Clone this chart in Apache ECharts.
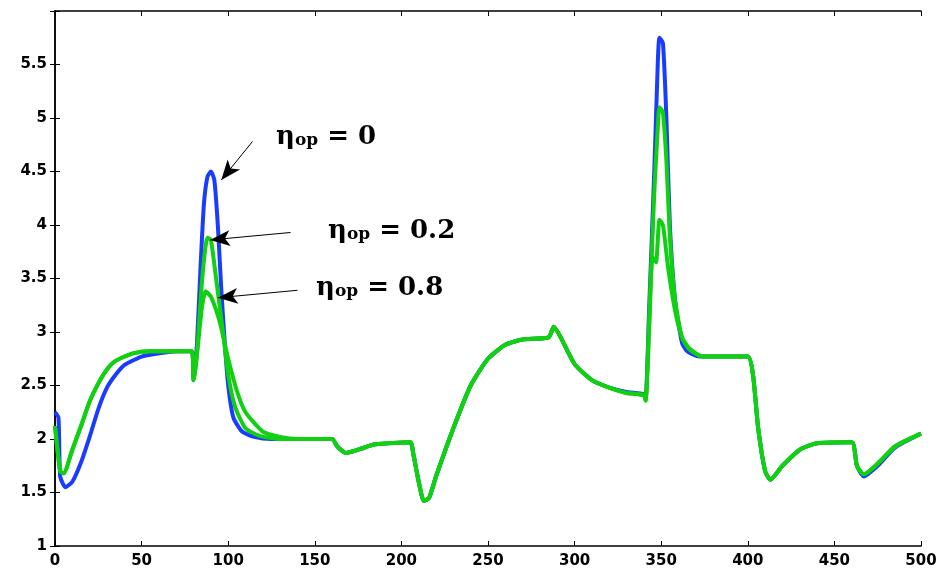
<!DOCTYPE html>
<html>
<head>
<meta charset="utf-8">
<script src="https://cdn.jsdelivr.net/npm/echarts@6/dist/echarts.min.js"></script>
<style>html,body{margin:0;padding:0;background:#fff}#chart{width:948px;height:574px}</style>
</head>
<body>
<div id="chart"></div>
<script>
// eta_op = 0 (blue)
let eta0 = [[0,2.25],[2,2.2],[3,1.65],[6,1.55],[10,1.6],[15,1.78],[20,2.02],[25,2.28],[30,2.48],[35,2.6],[40,2.69],[50,2.77],[60,2.8],[70,2.82],[79,2.82],[80,2.55],[82,2.9],[84,3.6],[86,4.2],[88,4.45],[90,4.5],[92,4.42],[94,4.0],[96,3.4],[98,2.9],[100,2.5],[103,2.2],[108,2.07],[115,2.02],[125,2.0],[160,2.0],[163,1.93],[168,1.87],[175,1.9],[185,1.95],[205,1.97],[207,1.85],[210,1.6],[213,1.42],[216,1.45],[220,1.65],[230,2.1],[240,2.5],[250,2.75],[260,2.88],[270,2.93],[285,2.95],[288,3.05],[292,2.95],[300,2.7],[310,2.55],[320,2.48],[330,2.44],[340,2.42],[341,2.38],[343,3.2],[346,4.5],[348,5.5],[349,5.75],[351,5.7],[353,5.0],[355,4.0],[358,3.3],[362,2.9],[365,2.82],[372,2.77],[400,2.77],[403,2.6],[406,2.1],[410,1.7],[413,1.62],[420,1.75],[430,1.9],[440,1.96],[460,1.97],[463,1.75],[467,1.65],[475,1.75],[485,1.92],[500,2.05]];
// eta_op = 0.2 (green)
let eta02 = [[0,2.12],[3,1.7],[5,1.68],[10,1.9],[15,2.12],[20,2.35],[25,2.52],[30,2.65],[35,2.73],[45,2.8],[55,2.82],[79,2.82],[80,2.55],[82,2.8],[85,3.5],[88,3.88],[90,3.86],[93,3.5],[97,3.0],[100,2.6],[104,2.3],[110,2.1],[118,2.03],[130,2.0],[160,2.0],[163,1.93],[168,1.87],[175,1.9],[185,1.95],[205,1.97],[207,1.85],[210,1.6],[213,1.42],[216,1.45],[220,1.65],[230,2.1],[240,2.5],[250,2.75],[260,2.88],[270,2.93],[285,2.95],[288,3.05],[292,2.95],[300,2.7],[310,2.55],[320,2.48],[330,2.43],[340,2.41],[341,2.36],[343,3.1],[346,4.3],[348,4.9],[349,5.1],[351,5.05],[353,4.6],[355,3.9],[358,3.3],[362,2.95],[366,2.84],[374,2.77],[400,2.77],[403,2.6],[406,2.1],[410,1.7],[413,1.62],[420,1.75],[430,1.9],[440,1.96],[460,1.97],[463,1.75],[467,1.67],[475,1.77],[485,1.93],[500,2.05]];
// eta_op = 0.8 (green)
let eta08 = [[0,2.12],[3,1.7],[5,1.68],[10,1.9],[15,2.12],[20,2.35],[25,2.52],[30,2.65],[35,2.73],[45,2.8],[55,2.82],[79,2.82],[80,2.55],[82,2.8],[85,3.25],[87,3.38],[90,3.33],[95,3.1],[100,2.75],[105,2.45],[110,2.25],[120,2.07],[130,2.02],[140,2.0],[160,2.0],[163,1.93],[168,1.87],[175,1.9],[185,1.95],[205,1.97],[207,1.85],[210,1.6],[213,1.42],[216,1.45],[220,1.65],[230,2.1],[240,2.5],[250,2.75],[260,2.88],[270,2.93],[285,2.95],[288,3.05],[292,2.95],[300,2.7],[310,2.55],[320,2.48],[330,2.43],[340,2.41],[341,2.36],[343,3.0],[345,3.7],[347,3.65],[349,4.05],[351,4.0],[354,3.6],[358,3.2],[362,2.95],[366,2.85],[374,2.77],[400,2.77],[403,2.6],[406,2.1],[410,1.7],[413,1.62],[420,1.75],[430,1.9],[440,1.96],[460,1.97],[463,1.75],[467,1.67],[475,1.77],[485,1.93],[500,2.05]];
// arrows [tail, head]
let arrows = [[[114,4.78],[96,4.42]],[[136,3.93],[89.5,3.86]],[[140,3.39],[94,3.32]]];

let chart = echarts.init(document.getElementById('chart'));
let tick = { fontSize: 15, fontWeight: 'bold', color: '#000', fontFamily: 'DejaVu Sans' };
let label = function (v) {
    return { type: 'text', style: { rich: {
        a: { fontSize: 26, fontWeight: 'bold', fontFamily: 'DejaVu Serif', fill: '#000' },
        b: { fontSize: 17, fontWeight: 'bold', fontFamily: 'DejaVu Serif', fill: '#000', padding: [8, 0, 0, 0] }
    }, text: '{a|η}{b|op}{a| = ' + v + '}' } };
};
let l1 = label('0'); l1.left = 276; l1.top = 124;
let l2 = label('0.2'); l2.left = 328; l2.top = 218;
let l3 = label('0.8'); l3.left = 316; l3.top = 275;

let axisBase = {
    axisLine: { show: true, lineStyle: { color: '#000', width: 1.5 } },
    axisTick: { show: true, inside: true, length: 5, lineStyle: { color: '#000' } },
    splitLine: { show: false }
};

let option = {
    animation: false,
    grid: { left: 55, right: 27, top: 11, bottom: 28 },
    xAxis: [
        Object.assign({ type: 'value', min: 0, max: 500, interval: 50, axisLabel: tick }, axisBase),
        Object.assign({ type: 'value', min: 0, max: 500, interval: 50, position: 'top', axisLabel: { show: false } }, axisBase)
    ],
    yAxis: [
        Object.assign({ type: 'value', min: 1, max: 6, interval: 0.5,
            axisLabel: Object.assign({ formatter: function (v) { return v >= 6 ? '' : String(v); } }, tick) }, axisBase),
        Object.assign({ type: 'value', min: 1, max: 6, interval: 0.5, position: 'right', axisLabel: { show: false } }, axisBase)
    ],
    graphic: [l1, l2, l3],
    series: [
        { type: 'line', data: eta0, showSymbol: false, smooth: 0.2, lineStyle: { color: '#1a3cff', width: 4 } },
        { type: 'line', data: eta08, showSymbol: false, smooth: 0.2, lineStyle: { color: '#11d011', width: 4 } },
        { type: 'line', data: eta02, showSymbol: false, smooth: 0.2, lineStyle: { color: '#11d011', width: 4 },
          markLine: {
              silent: true, symbol: ['none', 'arrow'], symbolSize: [12, 20],
              lineStyle: { color: '#000', width: 1, type: 'solid' }, label: { show: false },
              data: arrows.map(function (a) { return [{ coord: a[0] }, { coord: a[1] }]; })
          } }
    ]
};
chart.setOption(option);
</script>
</body>
</html>
